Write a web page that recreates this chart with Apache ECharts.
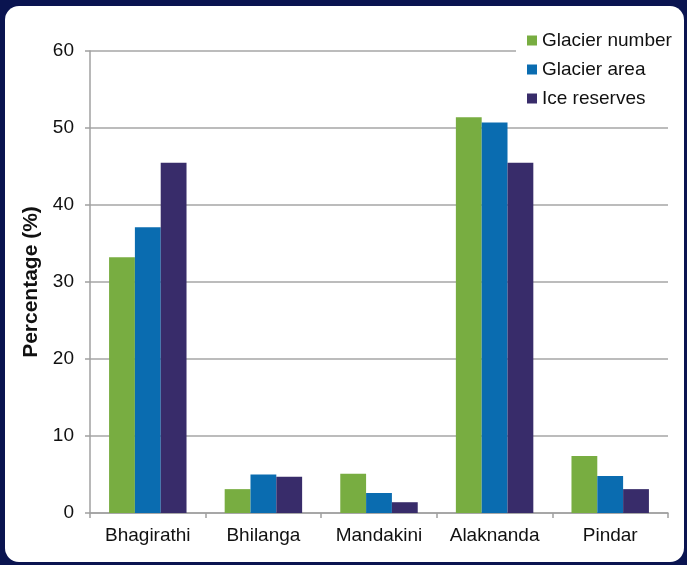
<!DOCTYPE html>
<html>
<head>
<meta charset="utf-8">
<script src="https://cdn.jsdelivr.net/npm/echarts@6/dist/echarts.min.js"></script>
<style>
html,body{margin:0;padding:0;background:#0a1450;}
#chart{width:687px;height:565px;}
</style>
</head>
<body>
<div id="chart"></div>
<script>
const categories = ['Bhagirathi', 'Bhilanga', 'Mandakini', 'Alaknanda', 'Pindar'];
const glacierNumber = [33.2, 3.1, 5.1, 51.4, 7.4];
const glacierArea = [37.1, 5.0, 2.6, 50.7, 4.8];
const iceReserves = [45.5, 4.7, 1.4, 45.5, 3.1];
const yTicks = [0, 10, 20, 30, 40, 50, 60];

const FONT = "'Liberation Sans', Arial, Helvetica, sans-serif";
const chart = echarts.init(document.getElementById('chart'));
chart.setOption({
  backgroundColor: '#0a1450',
  animation: false,
  graphic: [{
    type: 'rect', z: -10, silent: true,
    shape: { x: 5, y: 6, width: 679, height: 556, r: 14 },
    style: { fill: '#ffffff' }
  }],
  grid: { left: 90, right: 19, top: 51, bottom: 52, containLabel: false },
  legend: {
    orient: 'vertical',
    left: 516, top: 26,
    padding: [5, 5, 5, 11],
    backgroundColor: '#ffffff',
    itemWidth: 10, itemHeight: 10, itemGap: 10, itemTextGap: 5,
    icon: 'rect',
    textStyle: { fontFamily: FONT, fontSize: 19, color: '#111111' },
    data: ['Glacier number', 'Glacier area', 'Ice reserves']
  },
  xAxis: {
    type: 'category',
    data: categories,
    axisLine: { lineStyle: { color: '#a0a0a0', width: 1.5 } },
    axisTick: { show: true, length: 5, lineStyle: { color: '#a0a0a0', width: 1.5 } },
    axisLabel: { interval: 0, fontFamily: FONT, fontSize: 19, color: '#111111', margin: 13 }
  },
  yAxis: {
    type: 'value',
    min: yTicks[0], max: yTicks[yTicks.length - 1], interval: 10,
    name: 'Percentage (%)',
    nameLocation: 'middle',
    nameGap: 48,
    nameTextStyle: { fontFamily: FONT, fontSize: 21, fontWeight: 'bold', color: '#111111' },
    axisLine: { show: true, lineStyle: { color: '#a0a0a0', width: 1.5 } },
    axisTick: { show: true, length: 5, lineStyle: { color: '#a0a0a0', width: 1.5 } },
    axisLabel: { fontFamily: FONT, fontSize: 19, color: '#111111', margin: 16 },
    splitLine: { show: true, lineStyle: { color: '#a6a6a6', width: 1.5 } }
  },
  series: [
    { name: 'Glacier number', type: 'bar', data: glacierNumber, barGap: '0%', barCategoryGap: '33%', itemStyle: { color: '#78ad41' } },
    { name: 'Glacier area', type: 'bar', data: glacierArea, barGap: '0%', barCategoryGap: '33%', itemStyle: { color: '#0a6cb0' } },
    { name: 'Ice reserves', type: 'bar', data: iceReserves, barGap: '0%', barCategoryGap: '33%', itemStyle: { color: '#382c6a' } }
  ]
});
</script>
</body>
</html>
